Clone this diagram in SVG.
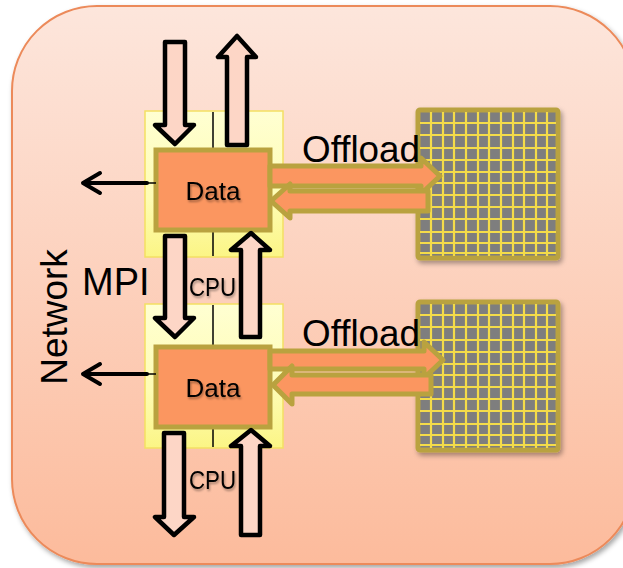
<svg xmlns="http://www.w3.org/2000/svg" xmlns:xlink="http://www.w3.org/1999/xlink" width="623" height="568" viewBox="0 0 623 568">
<defs>
<linearGradient id="bg" x1="0" y1="0" x2="0" y2="1">
<stop offset="0" stop-color="#fde6dc"/>
<stop offset="1" stop-color="#fcbb9c"/>
</linearGradient>
<linearGradient id="yel" x1="0" y1="0" x2="0" y2="1">
<stop offset="0" stop-color="#ffffd2"/>
<stop offset="0.6" stop-color="#fefcb4"/>
<stop offset="1" stop-color="#fbf585"/>
</linearGradient>
<filter id="sh" x="-10%" y="-10%" width="130%" height="130%">
<feDropShadow dx="2" dy="3" stdDeviation="2.5" flood-color="#000" flood-opacity="0.35"/>
</filter>
<filter id="tsh" x="-10%" y="-10%" width="130%" height="140%">
<feDropShadow dx="1" dy="2" stdDeviation="1.2" flood-color="#000" flood-opacity="0.35"/>
</filter>
<style>
.yb{fill:url(#yel);stroke:#f3df63;stroke-width:1.5}
.div{stroke:#000;stroke-width:1.5}
.data{fill:#fb9660;stroke:#b9a23f;stroke-width:5}
.blk{fill:#fdd6c6;stroke:#000;stroke-width:4.5;stroke-linejoin:round}
.off{fill:#fb9660;stroke:#b9a23f;stroke-width:5;stroke-linejoin:round}
.net{fill:none;stroke:#000;stroke-width:4;stroke-linecap:round;stroke-linejoin:round}
.gl{stroke:#f4dc4a;stroke-width:2.2}
.t{font-family:"Liberation Sans",Arial,sans-serif;fill:#000}
</style>
<g id="grid">
<rect x="0" y="0" width="140" height="148" fill="#7e7e7e" stroke="#b9a23f" stroke-width="5" rx="2"/>
<g class="gl">
<line x1="13" y1="2" x2="13" y2="146"/><line x1="25" y1="2" x2="25" y2="146"/><line x1="36" y1="2" x2="36" y2="146"/><line x1="48" y1="2" x2="48" y2="146"/><line x1="60" y1="2" x2="60" y2="146"/><line x1="71" y1="2" x2="71" y2="146"/><line x1="83" y1="2" x2="83" y2="146"/><line x1="95" y1="2" x2="95" y2="146"/><line x1="106" y1="2" x2="106" y2="146"/><line x1="118" y1="2" x2="118" y2="146"/><line x1="129" y1="2" x2="129" y2="146"/>
<line x1="2" y1="13" x2="138" y2="13"/><line x1="2" y1="25" x2="138" y2="25"/><line x1="2" y1="38" x2="138" y2="38"/><line x1="2" y1="50" x2="138" y2="50"/><line x1="2" y1="62" x2="138" y2="62"/><line x1="2" y1="73" x2="138" y2="73"/><line x1="2" y1="85" x2="138" y2="85"/><line x1="2" y1="97" x2="138" y2="97"/><line x1="2" y1="109" x2="138" y2="109"/><line x1="2" y1="122" x2="138" y2="122"/><line x1="2" y1="133" x2="138" y2="133"/><line x1="2" y1="143" x2="138" y2="143"/>
</g>
</g>
</defs>

<g id="network">
<rect x="12" y="6" width="623" height="558" rx="85" fill="url(#bg)" stroke="#ec8a5a" stroke-width="2" filter="url(#sh)"/>
<text class="t" font-size="37" transform="translate(67,317) rotate(-90)" text-anchor="middle">Network</text>
<text class="t" x="82" y="295" font-size="38">MPI</text>
</g>

<g id="cpu1">
<rect class="yb" x="145" y="111" width="138" height="146"/>
<line class="div" x1="213" y1="112" x2="213" y2="256"/>
</g>
<g id="cpu2">
<rect class="yb" x="145" y="304" width="138" height="144"/>
<line class="div" x1="213" y1="305" x2="213" y2="447"/>
</g>

<g id="gpu1" filter="url(#sh)"><use xlink:href="#grid" href="#grid" x="418" y="110"/></g>
<g id="gpu2" filter="url(#sh)"><use xlink:href="#grid" href="#grid" x="418" y="302"/></g>

<g id="data1">
<rect class="data" x="156" y="150" width="114" height="80"/>
<text class="t" x="213" y="200" font-size="26" text-anchor="middle" filter="url(#tsh)">Data</text>
</g>
<g id="data2">
<rect class="data" x="156" y="347" width="114" height="80"/>
<text class="t" x="213" y="397" font-size="26" text-anchor="middle" filter="url(#tsh)">Data</text>
</g>

<g id="connectors">
<path class="blk" d="M165,42 H185 V125 H194 L175,144 L155,125 H165 Z"/>
<path class="blk" d="M227,145 H247 V57 H256 L237,36 L218,57 H227 Z"/>
<path class="blk" d="M165,236 H185 V318 H194 L175,337 L155,318 H165 Z"/>
<path class="blk" d="M241,337 H260 V250 H270 L251,233 L231,250 H241 Z"/>
<path class="blk" d="M164,433 H184 V517 H194 L174,535 L155,517 H164 Z"/>
<path class="blk" d="M241,535 H260 V446 H270 L251,430 L231,446 H241 Z"/>

<path class="off" d="M270,166 H421 V158 L440,176 L421,194 V186 H270 Z"/>
<path class="off" d="M290,191 H428 V211 H290 V218 L271,201 L290,184 Z"/>
<path class="off" d="M270,351 H424 V342 L443,360 L424,378 V369 H270 Z"/>
<path class="off" d="M292,375 H431 V394 H292 V404 L273,385 L292,366 Z"/>

<line x1="147" y1="183" x2="156" y2="183" stroke="#000" stroke-width="1.5"/>
<path class="net" d="M147,183 H83 M100,173 L83,183 L100,193"/>
<line x1="147" y1="374" x2="156" y2="374" stroke="#000" stroke-width="1.5"/>
<path class="net" d="M147,374 H83 M100,364 L83,374 L100,384"/>
</g>

<g id="labels">
<text class="t" x="302" y="162" font-size="36" textLength="118" lengthAdjust="spacingAndGlyphs">Offload</text>
<text class="t" x="302" y="346" font-size="36" textLength="118" lengthAdjust="spacingAndGlyphs">Offload</text>
<text class="t" x="189" y="296" font-size="25" textLength="47" lengthAdjust="spacingAndGlyphs" filter="url(#tsh)">CPU</text>
<text class="t" x="189" y="489" font-size="25" textLength="47" lengthAdjust="spacingAndGlyphs" filter="url(#tsh)">CPU</text>
</g>
</svg>
